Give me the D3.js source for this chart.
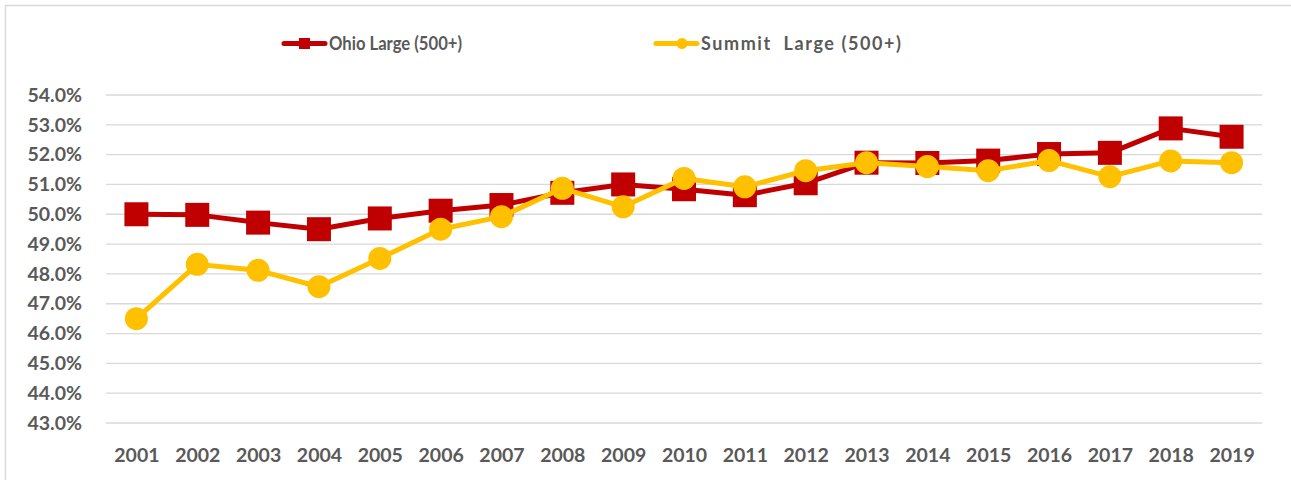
<!DOCTYPE html>
<html>
<head>
<meta charset="utf-8">
<script src="https://cdn.jsdelivr.net/npm/d3@7"></script>
<style>
  html, body { margin: 0; padding: 0; background: #fff; }
  svg { display: block; }
  text { font-family: Lato, "Open Sans", sans-serif; font-weight: bold; fill: #595959; }
</style>
</head>
<body>
<script>
const years = ["2001","2002","2003","2004","2005","2006","2007","2008","2009","2010","2011","2012","2013","2014","2015","2016","2017","2018","2019"];
const ohioLarge = [50.0, 49.98, 49.72, 49.5, 49.86, 50.12, 50.31, 50.72, 51.0, 50.84, 50.64, 51.04, 51.73, 51.72, 51.8, 52.02, 52.06, 52.88, 52.6];
const summitLarge = [46.5, 48.32, 48.12, 47.57, 48.52, 49.5, 49.92, 50.87, 50.25, 51.2, 50.92, 51.46, 51.73, 51.6, 51.46, 51.8, 51.26, 51.79, 51.73];
const yTicks = [43, 44, 45, 46, 47, 48, 49, 50, 51, 52, 53, 54];
const seriesNames = ["Ohio Large (500+)", "Summit  Large (500+)"];
const colors = ["#C00000", "#FFC000"];

(function () {
const W = 1291, H = 480;
const svg = d3.select("body").append("svg").attr("width", W).attr("height", H);

// chart frame
svg.append("rect").attr("x", 5.5).attr("y", 5.5).attr("width", W + 10).attr("height", H + 10)
  .attr("fill", "none").attr("stroke", "#d9d9d9").attr("stroke-width", 1.5);

const mLeft = 106, mRight = 1262, mTop = 95, mBottom = 423;
const x = d3.scalePoint().domain(years).range([mLeft, mRight]).padding(0.5);
const y = d3.scaleLinear().domain([43, 54]).range([mBottom, mTop]);

// gridlines
svg.append("g").selectAll("line").data(yTicks).join("line")
  .attr("x1", mLeft).attr("x2", mRight)
  .attr("y1", d => y(d)).attr("y2", d => y(d))
  .attr("stroke", "#d9d9d9").attr("stroke-width", 1.3);

// y axis
const yAxis = svg.append("g").attr("transform", `translate(${mLeft},0)`)
  .call(d3.axisLeft(y).tickValues(yTicks).tickFormat(d => d.toFixed(1) + "%").tickSize(0).tickPadding(24));
yAxis.select(".domain").remove();
yAxis.selectAll("text").style("font-size", "19.5px").style("font-family", "Lato, sans-serif").style("font-weight", "bold").attr("fill", "#595959");

// x axis
const xAxis = svg.append("g").attr("transform", `translate(0,${mBottom})`)
  .call(d3.axisBottom(x).tickSize(0).tickPadding(25.5));
xAxis.select(".domain").remove();
xAxis.selectAll("text").style("font-size", "19.5px").style("font-family", "Lato, sans-serif").style("font-weight", "bold").attr("fill", "#595959");

const line = d3.line().x((d, i) => x(years[i])).y(d => y(d));

// Ohio
svg.append("path").datum(ohioLarge).attr("d", line).attr("fill", "none")
  .attr("stroke", colors[0]).attr("stroke-width", 5).attr("stroke-linejoin", "round");
const sq = 24;
svg.append("g").selectAll("rect").data(ohioLarge).join("rect")
  .attr("x", (d, i) => x(years[i]) - sq / 2).attr("y", d => y(d) - sq / 2)
  .attr("width", sq).attr("height", sq).attr("fill", colors[0]);

// Summit
svg.append("path").datum(summitLarge).attr("d", line).attr("fill", "none")
  .attr("stroke", colors[1]).attr("stroke-width", 5).attr("stroke-linejoin", "round");
svg.append("g").selectAll("circle").data(summitLarge).join("circle")
  .attr("cx", (d, i) => x(years[i])).attr("cy", d => y(d)).attr("r", 11.5)
  .attr("fill", colors[1]);

// legend
const legendY = 43.5;
const lg = svg.append("g");
const items = [
  { x0: 284, name: seriesNames[0], color: colors[0], marker: "square", len: 133, adj: "spacingAndGlyphs" },
  { x0: 656, name: seriesNames[1], color: colors[1], marker: "circle", len: 200, adj: "spacing" }
];
items.forEach(it => {
  lg.append("line").attr("x1", it.x0).attr("x2", it.x0 + 41).attr("y1", legendY).attr("y2", legendY)
    .attr("stroke", it.color).attr("stroke-width", 5).attr("stroke-linecap", "round");
  if (it.marker === "square") {
    lg.append("rect").attr("x", it.x0 + 20.5 - 5.5).attr("y", legendY - 5.5).attr("width", 11).attr("height", 11).attr("fill", it.color);
  } else {
    lg.append("circle").attr("cx", it.x0 + 26).attr("cy", legendY).attr("r", 5.5).attr("fill", it.color);
  }
  lg.append("text").attr("x", it.x0 + 45).attr("y", legendY).attr("dy", "0.36em")
    .style("font-size", "18px").style("white-space", "pre").attr("xml:space", "preserve")
    .attr("textLength", it.len).attr("lengthAdjust", it.adj).text(it.name);
});
})();
</script>
</body>
</html>
